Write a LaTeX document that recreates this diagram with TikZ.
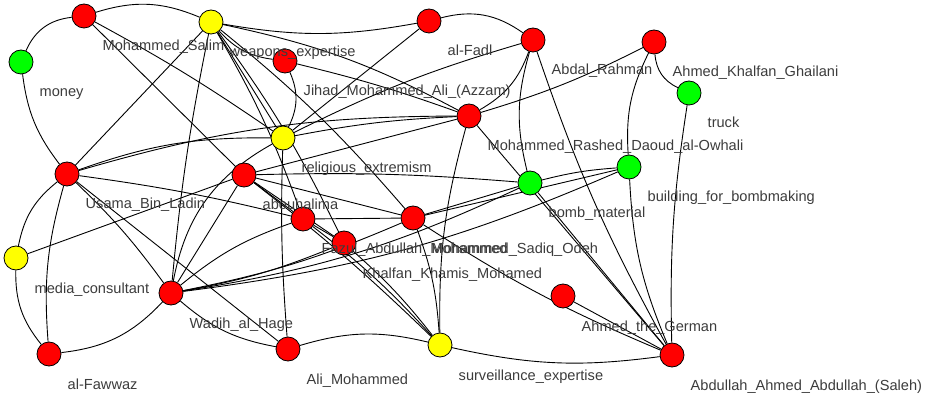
\documentclass[tikz,border=0pt]{standalone}
\usepackage{fontspec}
\setmainfont{Liberation Sans}
\usetikzlibrary{backgrounds,calc}
\definecolor{nred}{RGB}{255,0,0}
\definecolor{nyellow}{RGB}{255,255,0}
\definecolor{ngreen}{RGB}{0,255,0}
\definecolor{labgray}{RGB}{60,60,60}
\tikzset{
  vtx/.style={circle, draw=black, line width=0.8pt, minimum size=24pt, inner sep=0pt},
  rv/.style={vtx, fill=nred},
  yv/.style={vtx, fill=nyellow},
  gv/.style={vtx, fill=ngreen},
  lab/.style={anchor=base west, text=labgray, inner sep=0pt,
              font=\fontsize{14.6}{16}\selectfont},
  lnk/.style={draw=black, line width=0.9pt}
}
\begin{document}
\begin{tikzpicture}[x=1pt, y=-1pt]
\path[use as bounding box] (0,0) rectangle (928,395);

% vertices
\node[rv] (MS)  at (84,16)   {};
\node[yv] (WE)  at (211,22)  {};
\node[gv] (MO)  at (21,62)   {};
\node[rv] (JA)  at (285,61)  {};
\node[yv] (RE)  at (283,138) {};
\node[rv] (UBL) at (67,174)  {};
\node[rv] (AB)  at (244,175) {};
\node[rv] (AF)  at (429,21)  {};
\node[rv] (AR)  at (533,40)  {};
\node[rv] (OW)  at (469,116) {};
\node[gv] (BM)  at (530,183) {};
\node[rv] (AKG) at (654,42)  {};
\node[gv] (TR)  at (689,93)  {};
\node[gv] (BB)  at (629,167) {};
\node[yv] (MC)  at (16,258)  {};
\node[rv] (WH)  at (171,293) {};
\node[rv] (FW)  at (49,354)  {};
\node[rv] (AM)  at (288,349) {};
\node[rv] (FZ)  at (303,219) {};
\node[rv] (SO)  at (413,218) {};
\node[rv] (KK)  at (344,243) {};
\node[yv] (SE)  at (440,345) {};
\node[rv] (AG)  at (563,296) {};
\node[rv] (AAA) at (672,355) {};

% labels, set below and to the right of each vertex
\node[lab] (MSl)  at ($(MS)+(18.5,35)$)  {Mohammed\_Salim};
\node[lab] (WEl)  at ($(WE)+(18.5,35)$)  {weapons\_expertise};
\node[lab] (MOl)  at ($(MO)+(18.5,35)$)  {money};
\node[lab] (JAl)  at ($(JA)+(18.5,35)$)  {Jihad\_Mohammed\_Ali\_(Azzam)};
\node[lab] (REl)  at ($(RE)+(18.5,35)$)  {religious\_extremism};
\node[lab] (UBLl) at ($(UBL)+(18.5,35)$) {Usama\_Bin\_Ladin};
\node[lab] (ABl)  at ($(AB)+(18.5,35)$)  {abouhalima};
\node[lab] (AFl)  at ($(AF)+(18.5,35)$)  {al-Fadl};
\node[lab] (ARl)  at ($(AR)+(18.5,35)$)  {Abdal\_Rahman};
\node[lab] (OWl)  at ($(OW)+(18.5,35)$)  {Mohammed\_Rashed\_Daoud\_al-Owhali};
\node[lab] (BMl)  at ($(BM)+(18.5,35)$)  {bomb\_material};
\node[lab] (AKGl) at ($(AKG)+(18.5,35)$) {Ahmed\_Khalfan\_Ghailani};
\node[lab] (TRl)  at ($(TR)+(18.5,35)$)  {truck};
\node[lab] (BBl)  at ($(BB)+(18.5,35)$)  {building\_for\_bombmaking};
\node[lab] (MCl)  at ($(MC)+(18.5,35)$)  {media\_consultant};
\node[lab] (WHl)  at ($(WH)+(18.5,35)$)  {Wadih\_al\_Hage};
\node[lab] (FWl)  at ($(FW)+(18.5,35)$)  {al-Fawwaz};
\node[lab] (AMl)  at ($(AM)+(18.5,35)$)  {Ali\_Mohammed};
\node[lab] (FZl)  at ($(FZ)+(18.5,35)$)  {Fazul\_Abdullah\_Mohammed};
\node[lab] (SOl)  at ($(SO)+(18.5,35)$)  {Mohammed\_Sadiq\_Odeh};
\node[lab] (KKl)  at ($(KK)+(18.5,35)$)  {Khalfan\_Khamis\_Mohamed};
\node[lab] (SEl)  at ($(SE)+(18.5,35)$)  {surveillance\_expertise};
\node[lab] (AGl)  at ($(AG)+(18.5,35)$)  {Ahmed\_the\_German};
\node[lab] (AAAl) at ($(AAA)+(18.5,35)$) {Abdullah\_Ahmed\_Abdullah\_(Saleh)};

% links, kept beneath the vertices
\begin{pgfonlayer}{background}
\draw[lnk] (MO) to[bend left=30] (MS);
\draw[lnk] (MS) to[bend left=20] (WE);
\draw[lnk] (MS) to[bend left=3] (RE);
\draw[lnk] (MS) to (AB);
\draw[lnk] (UBL) to[bend left=15] (MO);
\draw[lnk] (WE) to (UBL);
\draw[lnk] (WE) to[bend right=10] (AF);
\draw[lnk] (WE) to[bend left=8] (OW);
\draw[lnk] (WE) to[bend right=20] (JA);
\draw[lnk] (WE) to (RE);
\draw[lnk] (WE) to[bend right=3] (WH);
\draw[lnk] (WE) to[bend left=5] (FZ);
\draw[lnk] (WE) to[bend left=5] (KK);
\draw[lnk] (WE) to[bend left=5] (SO);
\draw[lnk] (JA) to[bend left=25] (RE);
\draw[lnk] (JA) to[bend left=3] (OW);
\draw[lnk] (AF) to[bend left=25] (AR);
\draw[lnk] (AF) to (RE);
\draw[lnk] (RE) to[bend left=5] (AR);
\draw[lnk] (AR) to[bend left=20] (OW);
\draw[lnk] (AR) to[bend right=15] (BM);
\draw[lnk] (AR) to[bend right=5] (AAA);
\draw[lnk] (AKG) to[bend left=5] (OW);
\draw[lnk] (AKG) to[bend right=30] (TR);
\draw[lnk] (AKG) to[bend right=15] (BB);
\draw[lnk] (TR) to[bend right=5] (AAA);
\draw[lnk] (OW) to[bend right=4] (RE);
\draw[lnk] (OW) to[bend right=8] (SE);
\draw[lnk] (OW) to (AAA);
\draw[lnk] (OW) to (AB);
\draw[lnk] (UBL) to[bend left=10] (RE);
\draw[lnk] (UBL) to[bend left=8] (OW);
\draw[lnk] (RE) to[bend right=25] (WH);
\draw[lnk] (RE) to[bend right=3] (AM);
\draw[lnk] (UBL) to[bend left=3] (FZ);
\draw[lnk] (MC) to[bend left=20] (UBL);
\draw[lnk] (FW) to[bend left=10] (UBL);
\draw[lnk] (UBL) to[bend left=5] (WH);
\draw[lnk] (UBL) to (AM);
\draw[lnk] (MC) to (AB);
\draw[lnk] (MC) to[bend right=20] (FW);
\draw[lnk] (FW) to[bend right=20] (WH);
\draw[lnk] (WH) to[bend right=15] (AM);
\draw[lnk] (WH) to[bend left=10] (FZ);
\draw[lnk] (WH) to (AB);
\draw[lnk] (WH) to[bend right=6] (KK);
\draw[lnk] (WH) to[bend right=8] (BM);
\draw[lnk] (WH) to[bend right=8] (BB);
\draw[lnk] (WH) to[bend right=6] (SO);
\draw[lnk] (AB) to (FZ);
\draw[lnk] (AB) to (KK);
\draw[lnk] (AB) to[bend left=3] (SE);
\draw[lnk] (AB) to (SO);
\draw[lnk] (AB) to[bend left=3] (BM);
\draw[lnk] (FZ) to (SO);
\draw[lnk] (FZ) to (KK);
\draw[lnk] (FZ) to[bend left=5] (SE);
\draw[lnk] (KK) to[bend left=5] (SE);
\draw[lnk] (SO) to (BM);
\draw[lnk] (SO) to (BB);
\draw[lnk] (SO) to[bend left=8] (SE);
\draw[lnk] (SO) to[bend right=5] (AAA);
\draw[lnk] (BM) to[bend left=5] (BB);
\draw[lnk] (BM) to (AAA);
\draw[lnk] (BB) to[bend right=10] (AAA);
\draw[lnk] (AM) to[bend left=15] (SE);
\draw[lnk] (SE) to[bend right=10] (AAA);
\draw[lnk] (AG) to (AAA);
\end{pgfonlayer}
\end{tikzpicture}
\end{document}
